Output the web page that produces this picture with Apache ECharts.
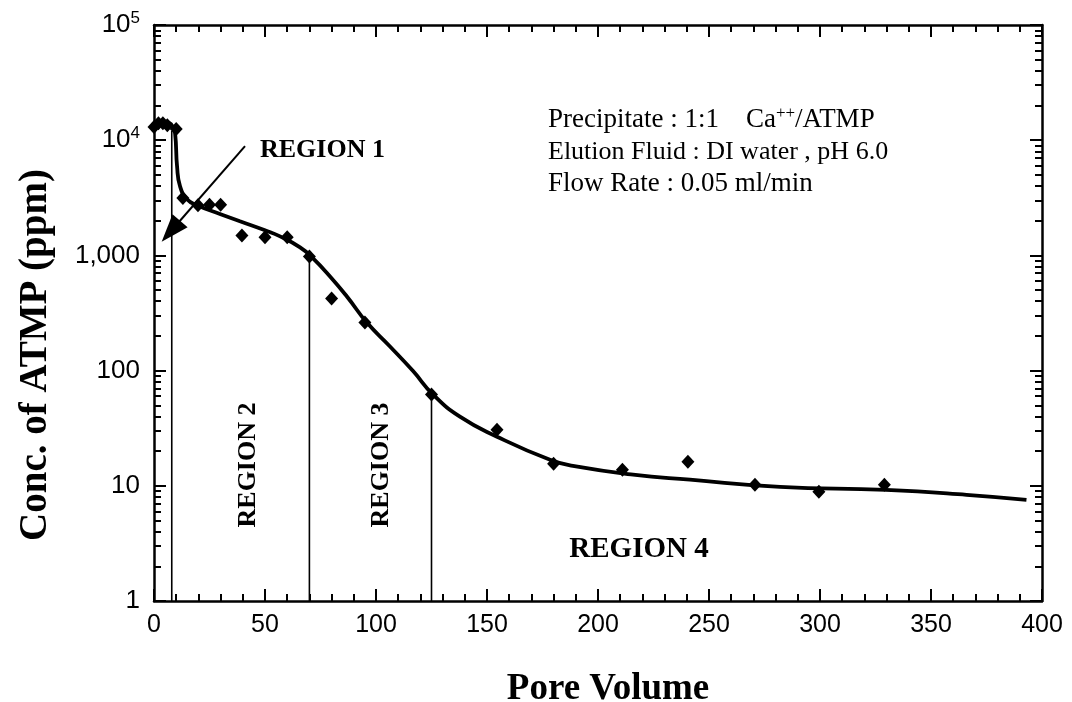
<!DOCTYPE html>
<html>
<head>
<meta charset="utf-8">
<script src="https://cdn.jsdelivr.net/npm/echarts@6/dist/echarts.min.js"></script>
<style>
  html, body { margin: 0; padding: 0; background: #fff; }
  #chart { width: 1072px; height: 702px; }
</style>
</head>
<body>
<div id="chart"></div>
<script>
// Measured ATMP concentration vs. pore volume (diamonds)
const poreVolume = [0, 2, 4, 6, 10, 13, 19.8, 25, 30, 39.6, 50, 60, 70, 80, 95, 125, 154.5, 180, 211, 240.5, 270.7, 299.5, 329];
const concMeasured = [13000, 14000, 14000, 13500, 12500, 3150, 2720, 2750, 2750, 1490, 1435, 1435, 980, 423, 261, 62, 30.7, 15.5, 13.8, 16.2, 10.2, 8.9, 10.2];

// Fitted elution curve (solid line)
const fitPoreVolume = [0, 2, 5, 7, 8.5, 9.5, 10.4, 11.7, 14.9, 19.4, 30, 38.7, 50, 56.8, 65.8, 71.2, 79.3, 86.9, 95.9, 106.3, 116.7, 125.7, 137.8, 154.5, 178.4, 188.7, 215.8, 241.4, 282, 329.7, 366, 393];
const fitConc = [13500, 14300, 14200, 14000, 13000, 11500, 5900, 4000, 3070, 2720, 2280, 1977, 1650, 1463, 1175, 961, 657, 440, 261, 162, 99, 62, 39.8, 26.7, 16.8, 14.9, 12.5, 11.3, 9.8, 9.2, 8.35, 7.55];

// Region boundaries: pore volume and the concentration where each line meets the curve
const regionBoundaryX = [8, 70, 125];
const regionBoundaryTop = [12000, 980, 62];

// Arrow pointing at region 1: [pore volume, conc] for tail and head
const region1ArrowTail = [41, 8870];
const region1ArrowHead = [7.6, 1620];

// Axis ticks
const yDecades = [1, 10, 100, 1000, 10000, 100000];
const yDecadeLabels = ['1', '10', '100', '1,000', '10{sup|4}', '10{sup|5}'];
const xMin = 0, xMax = 400, xStep = 50;

const yMinor = [];
for (let i = 0; i < yDecades.length - 1; i++) {
  for (let k = 2; k <= 9; k++) yMinor.push(yDecades[i] * k);
}

const INK = '#000';
const SANS = 'Liberation Sans';
const SERIF = 'Liberation Serif';

function xAxisDef(showLabels) {
  return {
    type: 'value', min: xMin, max: xMax, interval: xStep,
    position: showLabels ? 'bottom' : 'top',
    axisLine: { show: true, onZero: false, lineStyle: { color: INK, width: 2.5 } },
    axisTick: { show: true, inside: true, length: 12, lineStyle: { color: INK, width: 2 } },
    minorTick: { show: true, splitNumber: 5, length: 7, lineStyle: { color: INK, width: 2 } },
    splitLine: { show: false },
    minorSplitLine: { show: false },
    axisLabel: {
      show: showLabels, color: INK, fontFamily: SANS, fontSize: 25, margin: 12,
      showMinLabel: true, showMaxLabel: true
    }
  };
}

function yAxisDef(side, major, withLabels) {
  return {
    type: 'log', logBase: 10, min: 1, max: 100000, position: side,
    axisLine: { show: !major, onZero: false, lineStyle: { color: INK, width: 2.5 } },
    axisTick: {
      show: true, inside: true, length: major ? 12 : 7,
      customValues: major ? yDecades : yMinor,
      lineStyle: { color: INK, width: 2 }
    },
    splitLine: { show: false },
    axisLabel: {
      show: withLabels, color: INK, fontFamily: SANS, fontSize: 26, margin: 14,
      customValues: yDecades,
      formatter: function (v) {
        const i = yDecades.indexOf(Math.round(v));
        return i >= 0 ? yDecadeLabels[i] : '';
      },
      rich: {
        sup: { fontFamily: SANS, fontSize: 17, color: INK, verticalAlign: 'top', padding: [0, 0, 14, 0] }
      }
    }
  };
}

const boundarySeries = regionBoundaryX.map((x, i) => ({
  type: 'line', xAxisIndex: 0, yAxisIndex: 0,
  data: [[x, 1], [x, regionBoundaryTop[i]]],
  showSymbol: false, silent: true, z: 2,
  lineStyle: { color: INK, width: 1.6 }
}));

const chart = echarts.init(document.getElementById('chart'), null, { renderer: 'canvas' });
chart.setOption({
  animation: false,
  backgroundColor: '#fff',
  grid: { left: 154, right: 30, top: 25, bottom: 101, containLabel: false },
  xAxis: [xAxisDef(true), xAxisDef(false)],
  yAxis: [
    yAxisDef('left', false, true),
    yAxisDef('left', true, false),
    yAxisDef('right', false, false),
    yAxisDef('right', true, false)
  ],
  series: [
    ...boundarySeries,
    {
      type: 'line', name: 'fit', xAxisIndex: 0, yAxisIndex: 0,
      data: fitPoreVolume.map((x, i) => [x, fitConc[i]]),
      smooth: 0.5, showSymbol: false, z: 3,
      lineStyle: { color: INK, width: 3.8 }
    },
    {
      type: 'scatter', name: 'measured', xAxisIndex: 0, yAxisIndex: 0,
      data: poreVolume.map((x, i) => [x, concMeasured[i]]),
      symbol: 'diamond', symbolSize: [13, 14], z: 4,
      itemStyle: { color: INK, opacity: 1 },
      markLine: {
        silent: true, animation: false,
        symbol: ['none', 'triangle'], symbolSize: [20, 28],
        label: { show: false },
        lineStyle: { color: INK, width: 2, type: 'solid' },
        data: [[{ coord: region1ArrowTail }, { coord: region1ArrowHead }]]
      }
    }
  ],
  graphic: [
    // axis titles
    { type: 'text', x: 36, y: 355, rotation: Math.PI / 2, style: { text: 'Conc. of ATMP (ppm)', fill: INK, font: 'bold 39px "Liberation Serif"', textAlign: 'center', textVerticalAlign: 'middle' } },
    { type: 'text', x: 608, y: 689, style: { text: 'Pore Volume', fill: INK, font: 'bold 37px "Liberation Serif"', textAlign: 'center', textVerticalAlign: 'middle' } },
    // region labels
    { type: 'text', x: 260, y: 150, style: { text: 'REGION 1', fill: INK, font: 'bold 26px "Liberation Serif"', textVerticalAlign: 'middle' } },
    { type: 'text', x: 248, y: 465, rotation: Math.PI / 2, style: { text: 'REGION 2', fill: INK, font: 'bold 26px "Liberation Serif"', textAlign: 'center', textVerticalAlign: 'middle' } },
    { type: 'text', x: 381, y: 465, rotation: Math.PI / 2, style: { text: 'REGION 3', fill: INK, font: 'bold 26px "Liberation Serif"', textAlign: 'center', textVerticalAlign: 'middle' } },
    { type: 'text', x: 639, y: 550, style: { text: 'REGION 4', fill: INK, font: 'bold 29px "Liberation Serif"', textAlign: 'center', textVerticalAlign: 'middle' } },
    // experimental conditions
    {
      type: 'text', x: 548, y: 120,
      style: {
        text: 'Precipitate : 1:1    Ca{sup|++}/ATMP', fill: INK, font: '27px "Liberation Serif"', textVerticalAlign: 'middle',
        rich: { sup: { fontFamily: SERIF, fontSize: 17, fill: INK, verticalAlign: 'top', padding: [0, 0, 13, 0] } }
      }
    },
    { type: 'text', x: 548, y: 152, style: { text: 'Elution Fluid : DI water , pH 6.0', fill: INK, font: '26px "Liberation Serif"', textVerticalAlign: 'middle' } },
    { type: 'text', x: 548, y: 184, style: { text: 'Flow Rate : 0.05 ml/min', fill: INK, font: '27px "Liberation Serif"', textVerticalAlign: 'middle' } }
  ]
});
</script>
</body>
</html>
